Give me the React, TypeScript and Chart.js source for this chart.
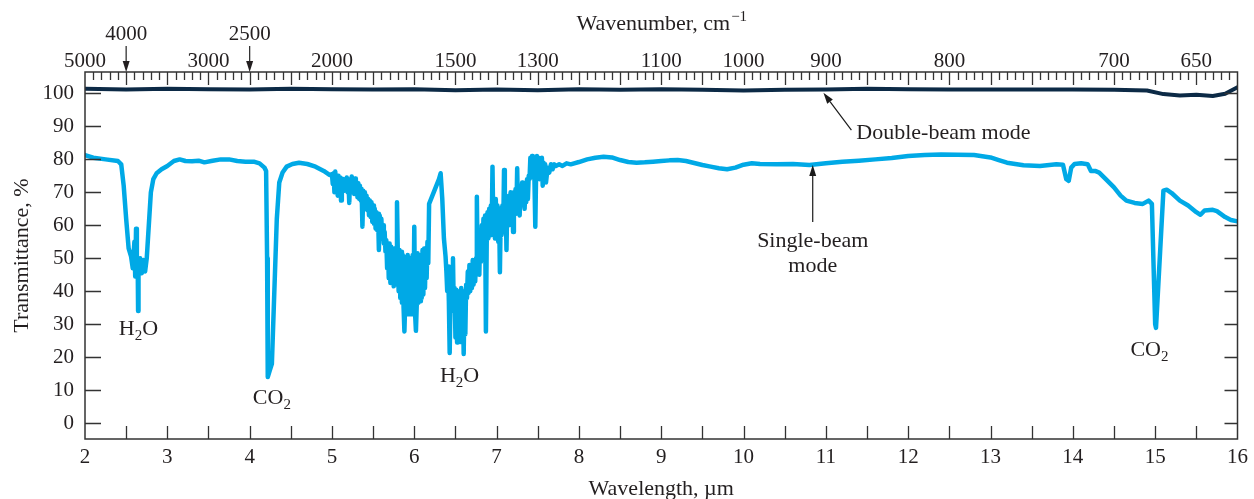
import React, { useEffect, useRef } from "react";
import { Chart, registerables } from "chart.js";

Chart.register(...registerables);

const FONT = "'Liberation Serif', 'Times New Roman', serif";
const TEXT = "#231f20";
const AXIS = "#333333";
const SINGLE_COLOR = "#00a9e6";
const DOUBLE_COLOR = "#0c2a46";

// Axis ticks / labels
const wavelengthTicks = [2, 3, 4, 5, 6, 7, 8, 9, 10, 11, 12, 13, 14, 15, 16];
const transmittanceTicks = [0, 10, 20, 30, 40, 50, 60, 70, 80, 90, 100];
const wavenumberLabels = ["5000", "3000", "2000", "1500", "1300", "1100", "1000", "900", "800", "700", "650"];
const wavenumberPositions = [2, 3.5, 5, 6.5, 7.5, 9, 10, 11, 12.5, 14.5, 15.5];
const arrowWavenumberLabels = ["4000", "2500"];
const arrowWavenumberPositions = [2.5, 4];

// Double-beam trace [wavelength µm, transmittance %]
const doubleBeam: [number, number][] = [
  [2.0, 101.4], [2.5, 101.2], [3.0, 101.4], [3.5, 101.3], [4.0, 101.2], [4.5, 101.4],
  [5.0, 101.3], [5.5, 101.2], [6.0, 101.3], [6.5, 101.0], [7.0, 101.2], [7.5, 101.0],
  [8.0, 101.3], [8.5, 101.1], [9.0, 101.3], [9.5, 101.1], [10.0, 100.9], [10.5, 101.1],
  [11.0, 101.2], [11.5, 101.4], [12.0, 101.3], [12.5, 101.2], [13.0, 101.2], [13.5, 101.2],
  [14.0, 101.2], [14.5, 101.1], [14.9, 100.9], [15.1, 99.8], [15.3, 99.4], [15.5, 99.6],
  [15.7, 99.2], [15.85, 99.9], [16.0, 101.9],
];

// Single-beam trace, near IR part
const singleBeamNear: [number, number][] = [
  [2.0, 81.3], [2.1, 80.5], [2.25, 80.0], [2.4, 79.5], [2.44, 78.5], [2.47, 72], [2.5, 62],
  [2.53, 53], [2.56, 50.5], [2.58, 47], [2.6, 55], [2.61, 44.5], [2.62, 59], [2.63, 46],
  [2.64, 49], [2.645, 34], [2.65, 45], [2.67, 50], [2.69, 45.5], [2.71, 49.5], [2.73, 46],
  [2.75, 50], [2.77, 58], [2.8, 70], [2.83, 74], [2.87, 75.8], [2.93, 77], [3.0, 78],
  [3.08, 79.5], [3.15, 80], [3.22, 79.5], [3.3, 79.4], [3.38, 79.6], [3.45, 79.1], [3.55, 79.6],
  [3.65, 80], [3.75, 80], [3.85, 79.5], [3.95, 79.3], [4.05, 79.3], [4.12, 78.8], [4.18, 77.5],
  [4.2, 76.5], [4.212, 50], [4.22, 14], [4.245, 16], [4.27, 18], [4.3, 40], [4.33, 62],
  [4.36, 73], [4.4, 76], [4.45, 77.8], [4.52, 78.6], [4.6, 79], [4.7, 78.6], [4.8, 77.8],
  [4.9, 76.5], [4.97, 75.3],
];

// Single-beam trace, water band 5–7.8 µm
const singleBeamWater: [number, number][] = [
  [5.0, 75.5], [5.01, 72.5], [5.02, 75.8], [5.03, 70.0], [5.04, 76.3], [5.05, 72.0], [5.06, 74.8],
  [5.07, 69.0], [5.08, 75.0], [5.09, 71.5], [5.1, 74.5], [5.11, 67.5], [5.12, 74.2], [5.13, 71.0],
  [5.14, 74.0], [5.15, 70.5], [5.16, 73.8], [5.17, 71.0], [5.18, 74.5], [5.19, 70.0], [5.2, 73.5],
  [5.21, 66.8], [5.22, 74.0], [5.23, 70.5], [5.24, 74.8], [5.25, 70.0], [5.26, 73.5], [5.27, 69.5],
  [5.28, 74.2], [5.29, 70.0], [5.3, 73.0], [5.31, 68.5], [5.32, 72.8], [5.33, 68.0], [5.34, 72.0],
  [5.35, 67.5], [5.36, 71.0], [5.37, 59.6], [5.38, 70.5], [5.39, 66.0], [5.4, 70.0], [5.41, 65.0],
  [5.42, 69.0], [5.43, 64.5], [5.44, 68.0], [5.45, 63.0], [5.46, 67.5], [5.47, 62.5], [5.48, 67.0],
  [5.49, 61.0], [5.5, 66.0], [5.51, 60.5], [5.52, 65.0], [5.53, 59.0], [5.54, 64.0], [5.55, 58.5],
  [5.56, 63.5], [5.57, 52.5], [5.58, 63.0], [5.59, 57.0], [5.6, 62.0], [5.61, 56.0], [5.62, 60.0],
  [5.63, 54.5], [5.64, 58.0], [5.65, 52.0], [5.66, 55.5], [5.67, 47.0], [5.68, 54.0], [5.69, 44.0],
  [5.7, 54.5], [5.71, 42.5], [5.72, 53.5], [5.73, 43.0], [5.74, 52.0], [5.75, 41.5], [5.76, 53.0],
  [5.77, 42.0], [5.78, 52.0], [5.79, 67.0], [5.8, 51.5], [5.81, 40.0], [5.82, 52.5], [5.83, 38.0],
  [5.84, 52.0], [5.85, 36.5], [5.86, 51.0], [5.87, 35.0], [5.88, 27.8], [5.89, 37.0], [5.9, 50.5],
  [5.91, 34.5], [5.92, 51.0], [5.93, 33.0], [5.94, 50.0], [5.95, 34.0], [5.96, 49.5], [5.97, 33.0],
  [5.98, 51.0], [5.99, 35.0], [6.0, 59.6], [6.01, 33.0], [6.02, 28.0], [6.03, 36.0], [6.04, 51.5],
  [6.05, 36.5], [6.06, 50.0], [6.07, 37.0], [6.08, 51.0], [6.09, 38.0], [6.1, 52.5], [6.11, 39.0],
  [6.12, 53.0], [6.13, 41.0], [6.14, 52.0], [6.15, 44.0], [6.16, 55.0], [6.17, 48.5], [6.18, 66.5],
  [6.22, 69.0], [6.26, 71.5], [6.3, 74.0], [6.32, 75.8], [6.34, 68.0], [6.36, 56.0], [6.38, 50.5],
  [6.39, 46.0], [6.4, 40.0], [6.41, 47.5], [6.42, 37.0], [6.43, 21.3], [6.44, 38.0], [6.45, 46.0],
  [6.46, 36.5], [6.47, 50.0], [6.48, 34.0], [6.49, 41.0], [6.5, 26.0], [6.51, 40.5], [6.52, 24.5],
  [6.53, 39.5], [6.54, 26.0], [6.55, 40.0], [6.56, 25.0], [6.57, 41.0], [6.58, 24.5], [6.59, 40.0],
  [6.6, 21.0], [6.61, 38.0], [6.62, 27.0], [6.63, 42.0], [6.64, 38.0], [6.65, 46.0], [6.66, 39.5],
  [6.67, 48.0], [6.68, 40.0], [6.69, 47.0], [6.7, 41.0], [6.71, 49.5], [6.72, 42.0], [6.73, 48.0],
  [6.74, 43.0], [6.75, 50.0], [6.76, 68.7], [6.77, 47.0], [6.78, 56.0], [6.79, 45.0], [6.8, 58.0],
  [6.81, 49.0], [6.82, 60.0], [6.83, 51.0], [6.84, 62.0], [6.85, 52.0], [6.86, 63.0], [6.87, 27.8],
  [6.88, 55.0], [6.89, 64.0], [6.9, 56.0], [6.91, 65.0], [6.92, 57.0], [6.93, 66.0], [6.94, 58.0],
  [6.95, 77.8], [6.96, 60.0], [6.97, 67.0], [6.98, 56.0], [6.99, 68.0], [7.0, 58.0], [7.01, 66.0],
  [7.02, 55.0], [7.03, 65.0], [7.04, 45.8], [7.05, 63.0], [7.06, 57.0], [7.07, 66.0], [7.08, 58.0],
  [7.09, 76.8], [7.1, 59.0], [7.11, 67.0], [7.12, 52.5], [7.13, 68.0], [7.14, 60.0], [7.15, 69.0],
  [7.16, 62.0], [7.17, 70.0], [7.18, 63.0], [7.19, 69.5], [7.2, 58.0], [7.21, 70.0], [7.22, 64.0],
  [7.23, 71.0], [7.24, 63.5], [7.25, 77.3], [7.26, 64.0], [7.27, 70.5], [7.28, 63.0], [7.29, 72.0],
  [7.3, 66.0], [7.31, 73.0], [7.32, 66.5], [7.33, 72.0], [7.34, 65.0], [7.35, 71.5], [7.36, 67.0],
  [7.37, 74.0], [7.38, 68.0], [7.39, 75.0], [7.4, 74.0], [7.41, 80.5], [7.42, 75.0], [7.43, 81.0],
  [7.44, 74.5], [7.45, 80.0], [7.46, 73.5], [7.47, 59.6], [7.48, 76.0], [7.49, 81.0], [7.5, 75.5],
  [7.51, 80.5], [7.52, 74.0], [7.53, 79.5], [7.54, 76.0], [7.55, 80.5], [7.56, 72.0], [7.57, 79.0],
  [7.58, 74.0], [7.59, 78.5], [7.6, 73.0], [7.62, 77.5], [7.64, 76.0], [7.66, 78.5], [7.68, 77.0],
  [7.7, 78.5], [7.72, 78.0], [7.76, 78.5],
];

// Single-beam trace, far IR part
const singleBeamFar: [number, number][] = [
  [7.8, 78.0], [7.85, 78.8], [7.9, 78.5], [8.0, 79.2], [8.1, 80.0], [8.2, 80.5], [8.3, 80.8],
  [8.4, 80.6], [8.5, 79.8], [8.6, 79.2], [8.7, 79.0], [8.8, 79.1], [8.9, 79.3], [9.0, 79.5],
  [9.1, 79.7], [9.2, 79.8], [9.3, 79.5], [9.4, 78.9], [9.5, 78.3], [9.6, 77.8], [9.7, 77.3],
  [9.8, 77.0], [9.9, 77.5], [10.0, 78.4], [10.1, 78.8], [10.2, 78.6], [10.4, 78.5], [10.6, 78.6],
  [10.8, 78.3], [11.0, 78.8], [11.2, 79.3], [11.4, 79.6], [11.6, 80.0], [11.8, 80.4], [12.0, 81.0],
  [12.2, 81.3], [12.4, 81.5], [12.6, 81.4], [12.8, 81.3], [13.0, 80.6], [13.1, 79.8], [13.2, 79.0],
  [13.4, 78.2], [13.6, 78.0], [13.8, 78.5], [13.88, 78.4], [13.92, 74.0], [13.95, 73.5],
  [13.98, 77.5], [14.02, 78.6], [14.1, 78.8], [14.18, 78.5], [14.22, 76.5], [14.27, 76.5],
  [14.32, 76.0], [14.4, 74.0], [14.5, 71.5], [14.58, 69.0], [14.65, 67.5], [14.75, 66.8],
  [14.85, 66.5], [14.92, 67.5], [14.96, 66.5], [15.0, 30.0], [15.01, 28.9], [15.06, 52],
  [15.1, 70.5], [15.14, 70.8], [15.2, 69.8], [15.3, 67.5], [15.4, 66.0], [15.5, 64.0],
  [15.55, 63.2], [15.6, 64.5], [15.7, 64.7], [15.75, 64.3], [15.85, 62.5], [15.92, 61.6],
  [16.0, 61.2],
];

const singleBeam = [...singleBeamNear, ...singleBeamWater, ...singleBeamFar];

// Chemical band labels: text parts ([text, isSubscript]) and anchor in data units
const bandLabels: { parts: [string, boolean][]; x: number; y: number }[] = [
  { parts: [["H", false], ["2", true], ["O", false]], x: 2.65, y: 29 },
  { parts: [["CO", false], ["2", true]], x: 4.27, y: 8 },
  { parts: [["H", false], ["2", true], ["O", false]], x: 6.55, y: 14.6 },
  { parts: [["CO", false], ["2", true]], x: 14.93, y: 22.5 },
];

function arrow(ctx: CanvasRenderingContext2D, x1: number, y1: number, x2: number, y2: number) {
  const ang = Math.atan2(y2 - y1, x2 - x1);
  const head = 11;
  const hw = 3.5;
  const bx = x2 - head * Math.cos(ang);
  const by = y2 - head * Math.sin(ang);
  ctx.beginPath();
  ctx.moveTo(x1, y1);
  ctx.lineTo(bx, by);
  ctx.stroke();
  ctx.beginPath();
  ctx.moveTo(x2, y2);
  ctx.lineTo(bx + hw * Math.sin(ang), by - hw * Math.cos(ang));
  ctx.lineTo(bx - hw * Math.sin(ang), by + hw * Math.cos(ang));
  ctx.closePath();
  ctx.fill();
}

const overlay = {
  id: "overlay",
  afterDraw(chart: any) {
    const { ctx, chartArea: a, scales } = chart;
    const xs = scales.x;
    const ys = scales.y;
    ctx.save();
    ctx.strokeStyle = AXIS;
    ctx.fillStyle = TEXT;
    ctx.lineWidth = 1.5;
    ctx.strokeRect(a.left, a.top, a.right - a.left, a.bottom - a.top);

    ctx.lineWidth = 1.3;
    // bottom ticks every 0.5 µm (inward)
    for (let i = 1; i < 28; i++) {
      const px = Math.round(xs.getPixelForValue(2 + i * 0.5)) + 0.5;
      ctx.beginPath();
      ctx.moveTo(px, a.bottom);
      ctx.lineTo(px, a.bottom - 13);
      ctx.stroke();
    }
    // top ticks every 0.1 µm, long every 0.5
    for (let i = 1; i < 140; i++) {
      const px = Math.round(xs.getPixelForValue(2 + i * 0.1)) + 0.5;
      const long = i % 5 === 0;
      ctx.beginPath();
      ctx.moveTo(px, a.top);
      ctx.lineTo(px, a.top + (long ? 13 : 8));
      ctx.stroke();
    }
    // y ticks both sides
    for (const t of transmittanceTicks) {
      const py = Math.round(ys.getPixelForValue(t)) + 0.5;
      ctx.beginPath();
      ctx.moveTo(a.left, py);
      ctx.lineTo(a.left + 16, py);
      ctx.moveTo(a.right, py);
      ctx.lineTo(a.right - 13, py);
      ctx.stroke();
    }

    // wavenumber labels with arrows (4000, 2500)
    ctx.font = `21px ${FONT}`;
    ctx.textAlign = "center";
    ctx.textBaseline = "middle";
    arrowWavenumberLabels.forEach((lab, i) => {
      const px = xs.getPixelForValue(arrowWavenumberPositions[i]);
      ctx.fillText(lab, px, 34);
      ctx.lineWidth = 1.3;
      arrow(ctx, px, 46, px, a.top);
    });

    // Wavenumber title with superscript
    const cx = (a.left + a.right) / 2;
    ctx.font = `22px ${FONT}`;
    const main = "Wavenumber, cm";
    const wMain = ctx.measureText(main).width;
    ctx.font = `15px ${FONT}`;
    const sup = "\u22121";
    const wSup = ctx.measureText(sup).width;
    const start = cx - (wMain + wSup) / 2;
    ctx.textAlign = "left";
    ctx.textBaseline = "alphabetic";
    ctx.font = `22px ${FONT}`;
    ctx.fillText(main, start, 30);
    ctx.font = `15px ${FONT}`;
    ctx.fillText(sup, start + wMain + 1, 21);

    // band labels
    for (const lab of bandLabels) {
      let total = 0;
      for (const [t, sub] of lab.parts) {
        ctx.font = `${sub ? 15 : 22}px ${FONT}`;
        total += ctx.measureText(t).width;
      }
      let px = xs.getPixelForValue(lab.x) - total / 2;
      const py = ys.getPixelForValue(lab.y) + 7;
      for (const [t, sub] of lab.parts) {
        ctx.font = `${sub ? 15 : 22}px ${FONT}`;
        ctx.fillText(t, px, sub ? py + 5 : py);
        px += ctx.measureText(t).width;
      }
    }

    // annotations
    ctx.strokeStyle = "#1a1a1a";
    ctx.fillStyle = "#1a1a1a";
    ctx.lineWidth = 1.2;
    arrow(ctx, xs.getPixelForValue(11.31), ys.getPixelForValue(88.9), xs.getPixelForValue(10.97), ys.getPixelForValue(100.2));
    arrow(ctx, xs.getPixelForValue(10.84), ys.getPixelForValue(61), xs.getPixelForValue(10.84), ys.getPixelForValue(78.3));
    ctx.fillStyle = TEXT;
    ctx.font = `22px ${FONT}`;
    ctx.textBaseline = "middle";
    ctx.textAlign = "left";
    ctx.fillText("Double-beam mode", xs.getPixelForValue(11.37), ys.getPixelForValue(88));
    ctx.textAlign = "center";
    ctx.fillText("Single-beam", xs.getPixelForValue(10.84), ys.getPixelForValue(55.3));
    ctx.fillText("mode", xs.getPixelForValue(10.84), ys.getPixelForValue(47.5));
    ctx.restore();
  },
};

export default function App() {
  const ref = useRef<HTMLCanvasElement | null>(null);
  useEffect(() => {
    document.body.style.margin = "0";
    const canvas = ref.current!;
    const chart = new Chart(canvas, {
      type: "line",
      data: {
        datasets: [
          {
            label: "Double-beam mode",
            data: doubleBeam.map(([x, y]) => ({ x, y })),
            borderColor: DOUBLE_COLOR,
            borderWidth: 4,
            pointRadius: 0,
            tension: 0,
            borderJoinStyle: "round",
            borderCapStyle: "round",
          },
          {
            label: "Single-beam mode",
            data: singleBeam.map(([x, y]) => ({ x, y })),
            borderColor: SINGLE_COLOR,
            borderWidth: 4.5,
            pointRadius: 0,
            tension: 0,
            borderJoinStyle: "round",
            borderCapStyle: "round",
          },
        ],
      },
      options: {
        animation: false,
        responsive: false,
        devicePixelRatio: 1,
        layout: { padding: { left: 0, right: 14, top: 0, bottom: 0 } },
        plugins: { legend: { display: false }, tooltip: { enabled: false } },
        scales: {
          x: {
            type: "linear",
            position: "bottom",
            min: 2,
            max: 16,
            afterBuildTicks: (s: any) => {
              s.ticks = wavelengthTicks.map((v) => ({ value: v }));
            },
            afterFit: (s: any) => {
              s.height = 60;
            },
            ticks: {
              autoSkip: false,
              maxRotation: 0,
              padding: 6,
              color: TEXT,
              font: { family: FONT, size: 21 },
              callback: (v: any) => String(v),
            },
            grid: { display: false, drawTicks: false },
            border: { display: false },
            title: {
              display: true,
              text: "Wavelength, \u00b5m",
              color: TEXT,
              font: { family: FONT, size: 22 },
              padding: { top: 0, bottom: -3 },
            },
          },
          x2: {
            type: "linear",
            position: "top",
            min: 2,
            max: 16,
            afterBuildTicks: (s: any) => {
              s.ticks = wavenumberPositions.map((v) => ({ value: v }));
            },
            afterFit: (s: any) => {
              s.height = 72;
            },
            ticks: {
              autoSkip: false,
              maxRotation: 0,
              padding: -2,
              color: TEXT,
              font: { family: FONT, size: 21 },
              callback: (v: any) => {
                const i = wavenumberPositions.indexOf(Number(v));
                return i >= 0 ? wavenumberLabels[i] : "";
              },
            },
            grid: { display: false, drawTicks: false },
            border: { display: false },
          },
          y: {
            type: "linear",
            position: "left",
            min: -4.8,
            max: 106.5,
            afterBuildTicks: (s: any) => {
              s.ticks = transmittanceTicks.map((v) => ({ value: v }));
            },
            afterFit: (s: any) => {
              s.width = 85;
            },
            ticks: {
              padding: 11,
              color: TEXT,
              font: { family: FONT, size: 21 },
            },
            grid: { display: false, drawTicks: false },
            border: { display: false },
            title: {
              display: true,
              text: "Transmittance, %",
              color: TEXT,
              font: { family: FONT, size: 22 },
              padding: { top: 9, bottom: 0 },
            },
          },
        },
      },
      plugins: [overlay],
    } as any);
    return () => chart.destroy();
  }, []);
  return (
    <div style={{ width: 1254, height: 499 }}>
      <canvas ref={ref} width={1254} height={499} />
    </div>
  );
}
